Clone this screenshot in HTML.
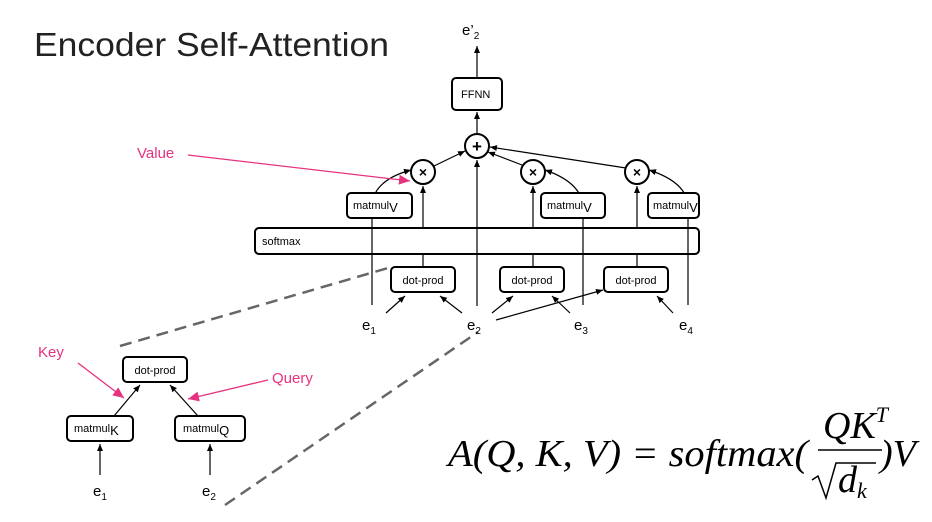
<!DOCTYPE html>
<html><head><meta charset="utf-8"><style>
body{margin:0;background:#fff;}
svg{display:block;font-family:"Liberation Sans",sans-serif;}
.b{fill:#fff;stroke:#000;stroke-width:2;}
.l{stroke:#000;stroke-width:1.2;fill:none;}
.p{stroke:#e6327f;stroke-width:1.3;fill:none;}
.t{font-size:11px;}
.d{stroke:#666;stroke-width:2.5;stroke-dasharray:12,7;fill:none;}
.m{font-family:"Liberation Serif",serif;font-style:italic;font-size:38px;}
</style></head><body>
<svg width="932" height="522" viewBox="0 0 932 522">
<defs>
<marker id="a" markerWidth="8" markerHeight="8" refX="7" refY="4" orient="auto" markerUnits="userSpaceOnUse"><path d="M0,1 L7,4 L0,7z" fill="#000"/></marker>
<marker id="pa" markerWidth="12" markerHeight="10" refX="11" refY="5" orient="auto" markerUnits="userSpaceOnUse"><path d="M0,0 L11,5 L0,10z" fill="#e6327f"/></marker>
</defs>
<text x="34" y="56" font-size="33" fill="#222" textLength="355" lengthAdjust="spacingAndGlyphs">Encoder Self-Attention</text>
<text x="462" y="35" font-size="15">e’<tspan font-size="10" dy="4">2</tspan></text>
<line class="l" x1="477" y1="78" x2="477" y2="46" marker-end="url(#a)"/>
<rect class="b" x="452" y="78" width="50" height="32" rx="4"/>
<text x="461" y="98" class="t">FFNN</text>
<line class="l" x1="477" y1="134" x2="477" y2="112" marker-end="url(#a)"/>
<path class="d" d="M120,346 L388,268"/>
<path class="d" d="M225,505 L478,332"/>
<rect class="b" x="255" y="228" width="444" height="26" rx="4"/>
<text x="262" y="245" class="t">softmax</text>
<g class="l">
<line x1="423" y1="267" x2="423" y2="254"/><line x1="533" y1="267" x2="533" y2="254"/><line x1="637" y1="267" x2="637" y2="254"/>
<line x1="423" y1="228" x2="423" y2="186" marker-end="url(#a)"/>
<line x1="533" y1="228" x2="533" y2="186" marker-end="url(#a)"/>
<line x1="637" y1="228" x2="637" y2="186" marker-end="url(#a)"/>
<line x1="477" y1="306" x2="477" y2="160" marker-end="url(#a)"/>
<path d="M372,305 L372,205 Q374,180 411,170" marker-end="url(#a)"/>
<path d="M583,305 L583,205 Q580,182 545,170" marker-end="url(#a)"/>
<path d="M688,305 L688,205 Q686,182 649,170" marker-end="url(#a)"/>
<line x1="434" y1="166" x2="465" y2="151" marker-end="url(#a)"/>
<line x1="522" y1="165" x2="488" y2="152" marker-end="url(#a)"/>
<line x1="626" y1="168" x2="490" y2="147" marker-end="url(#a)"/>
<line x1="386" y1="313" x2="405" y2="296" marker-end="url(#a)"/>
<line x1="462" y1="313" x2="440" y2="296" marker-end="url(#a)"/>
<line x1="492" y1="313" x2="513" y2="296" marker-end="url(#a)"/>
<line x1="570" y1="313" x2="552" y2="296" marker-end="url(#a)"/>
<line x1="496" y1="320" x2="603" y2="290" marker-end="url(#a)"/>
<line x1="673" y1="313" x2="657" y2="296" marker-end="url(#a)"/>
</g>
<g>
<circle class="b" cx="477" cy="146" r="12"/><text x="477" y="152" font-size="17" font-weight="bold" text-anchor="middle">+</text>
<circle class="b" cx="423" cy="172" r="12"/><text x="423" y="177" font-size="14" font-weight="bold" text-anchor="middle">×</text>
<circle class="b" cx="533" cy="172" r="12"/><text x="533" y="177" font-size="14" font-weight="bold" text-anchor="middle">×</text>
<circle class="b" cx="637" cy="172" r="12"/><text x="637" y="177" font-size="14" font-weight="bold" text-anchor="middle">×</text>
</g>
<rect class="b" x="347" y="193" width="65" height="25" rx="4"/><text x="353" y="209" class="t">matmul<tspan font-size="13" dy="3">V</tspan></text>
<rect class="b" x="541" y="193" width="64" height="25" rx="4"/><text x="547" y="209" class="t">matmul<tspan font-size="13" dy="3">V</tspan></text>
<rect class="b" x="648" y="193" width="51" height="25" rx="4"/><text x="653" y="209" class="t">matmul<tspan font-size="13" dy="3">V</tspan></text>
<rect class="b" x="391" y="267" width="64" height="25" rx="4"/><text x="423" y="284" class="t" text-anchor="middle">dot-prod</text>
<rect class="b" x="500" y="267" width="64" height="25" rx="4"/><text x="532" y="284" class="t" text-anchor="middle">dot-prod</text>
<rect class="b" x="604" y="267" width="64" height="25" rx="4"/><text x="636" y="284" class="t" text-anchor="middle">dot-prod</text>
<g font-size="15">
<text x="362" y="330">e<tspan font-size="10" dy="4">1</tspan></text>
<text x="467" y="330">e<tspan font-size="10" dy="4">2</tspan></text>
<text x="574" y="330">e<tspan font-size="10" dy="4">3</tspan></text>
<text x="679" y="330">e<tspan font-size="10" dy="4">4</tspan></text>
</g>
<text x="137" y="158" font-size="15" fill="#e6327f">Value</text>
<line class="p" x1="188" y1="155" x2="410" y2="181" marker-end="url(#pa)"/>
<rect class="b" x="123" y="357" width="64" height="25" rx="4"/><text x="155" y="374" class="t" text-anchor="middle">dot-prod</text>
<rect class="b" x="67" y="416" width="66" height="25" rx="4"/><text x="74" y="432" class="t">matmul<tspan font-size="13" dy="3">K</tspan></text>
<rect class="b" x="175" y="416" width="70" height="25" rx="4"/><text x="183" y="432" class="t">matmul<tspan font-size="13" dy="3">Q</tspan></text>
<g class="l">
<line x1="100" y1="475" x2="100" y2="444" marker-end="url(#a)"/>
<line x1="210" y1="475" x2="210" y2="444" marker-end="url(#a)"/>
<line x1="114" y1="416" x2="140" y2="385" marker-end="url(#a)"/>
<line x1="198" y1="416" x2="170" y2="385" marker-end="url(#a)"/>
</g>
<g font-size="15">
<text x="93" y="496">e<tspan font-size="10" dy="4">1</tspan></text>
<text x="202" y="496">e<tspan font-size="10" dy="4">2</tspan></text>
</g>
<text x="38" y="357" font-size="15" fill="#e6327f">Key</text>
<line class="p" x1="78" y1="363" x2="124" y2="398" marker-end="url(#pa)"/>
<text x="272" y="383" font-size="15" fill="#e6327f">Query</text>
<line class="p" x1="268" y1="380" x2="188" y2="399" marker-end="url(#pa)"/>
<text x="448" y="466" class="m" textLength="360" lengthAdjust="spacingAndGlyphs">A(Q, K, V) = softmax(</text>
<text x="823" y="438" class="m" font-size="36">QK<tspan font-size="22" dy="-16">T</tspan></text>
<line x1="818" y1="450" x2="882" y2="450" stroke="#000" stroke-width="1.5"/>
<path d="M812,480 L818,476 L826,498 L836,463 L876,463" stroke="#000" stroke-width="1.5" fill="none"/>
<text x="838" y="492" class="m" font-size="34">d<tspan font-size="22" dy="6">k</tspan></text>
<text x="880" y="466" class="m">)V</text>
</svg>
</body></html>
